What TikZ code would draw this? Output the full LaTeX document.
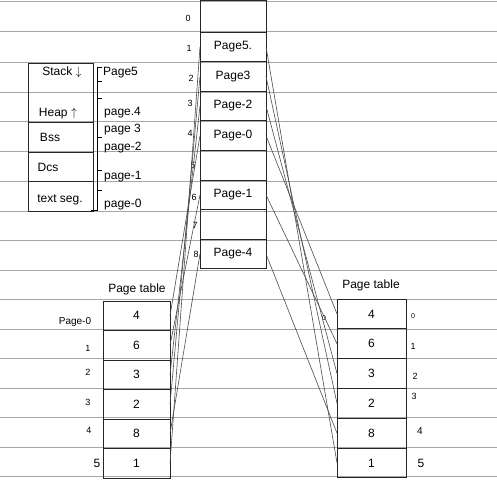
\documentclass[tikz,border=0pt]{standalone}
\usepackage{fontspec}
\setmainfont{Liberation Sans}
\begin{document}
\begin{tikzpicture}[x=1pt,y=-1pt,
  paper/.style={draw=gray!70, line width=1pt},
  cell/.style={draw=black!85, line width=0.9pt, inner sep=0pt, outer sep=0pt, anchor=north west},
  frm/.style={cell, minimum width=66pt, minimum height=29.6pt, font=\large},
  ltrow/.style={cell, minimum width=67pt, minimum height=29.5pt, font=\large},
  rtrow/.style={cell, minimum width=69pt, minimum height=29.8pt, font=\large},
  lbl/.style={inner sep=0pt, font=\normalsize},
  blbl/.style={inner sep=0pt, font=\large, anchor=west},
  sml/.style={inner sep=0pt, font=\small},
  conn/.style={draw=black!70, line width=0.6pt}]
\useasboundingbox (0,0) rectangle (497,489);
\fill[white] (0,0) rectangle (497,489);
% ruled paper lines
\foreach \y in {2,32,63,93,122,152,181,211,240,270,299,329,358,388,417,447,476}
  \draw[paper] (0,\y) -- (497,\y);

% central memory column
\node[frm, minimum height=32pt] (f0) at (200,0) {};
\node[frm] (f1) at (200,32) {Page5.};
\node[frm] (f2) at (200,61.6) {Page3};
\node[frm] (f3) at (200,91.2) {Page-2};
\node[frm] (f4) at (200,120.8) {Page-0};
\node[frm] (f5) at (200,150.4) {};
\node[frm] (f6) at (200,180) {Page-1};
\node[frm] (f7) at (200,209.6) {};
\node[frm] (f8) at (200,239.2) {Page-4};
% frame numbers
\node[sml] (n0) at (188,18) {0};
\node[sml] (n1) at (189,48) {1};
\node[sml] (n2) at (191,78) {2};
\node[sml] (n3) at (190,103) {3};
\node[sml] (n4) at (190,133) {4};
\node[sml] (n5) at (193,165) {5};
\node[sml] (n6) at (194,197) {6};
\node[sml] (n7) at (195,225) {7};
\node[sml] (n8) at (196,254) {8};

% segment table
\node[cell, minimum width=65pt, minimum height=59pt] (s1) at (28,63) {};
\node[cell, minimum width=65pt, minimum height=30pt] (s2) at (28,122) {};
\node[cell, minimum width=65pt, minimum height=29pt] (s3) at (28,152) {};
\node[cell, minimum width=65pt, minimum height=30pt] (s4) at (28,181) {};
\node[lbl, font=\large] (stk) at (62,72) {Stack $\downarrow$};
\node[lbl, font=\large] (hp) at (58,114) {Heap $\uparrow$};
\node[lbl, font=\large] (bss) at (50,137) {Bss};
\node[lbl, font=\large] (dcs) at (48,167) {Dcs};
\node[lbl, font=\large] (txt) at (60,200) {text seg.};
% bracket
\draw[line width=0.8pt] (102,67) -- (97,67) -- (97,210) -- (91,210);
\foreach \y in {81,98,137,170,190} \draw[line width=0.8pt] (97,\y) -- (102,\y);
\node[blbl] (b5) at (103,73) {Page5};
\node[blbl] (b4) at (104,113) {page.4};
\node[blbl] (b3) at (104,130) {page 3};
\node[blbl] (b2) at (104,148) {page-2};
\node[blbl] (b1) at (104,177) {page-1};
\node[blbl] (b0) at (104,205) {page-0};

% left page table
\node[lbl, font=\large] (ltt) at (137,289) {Page table};
\node[ltrow] (lt0) at (103,301) {4};
\node[ltrow] (lt1) at (103,330.5) {6};
\node[ltrow] (lt2) at (103,360) {3};
\node[ltrow] (lt3) at (103,389.5) {2};
\node[ltrow] (lt4) at (103,419) {8};
\node[ltrow] (lt5) at (103,448.5) {1};
\node[lbl] (li0) at (75,322) {Page-0};
\node[sml] (li1) at (88,348) {1};
\node[sml] (li2) at (88,372) {2};
\node[sml] (li3) at (88,402) {3};
\node[sml] (li4) at (89,430) {4};
\node[lbl, font=\large] (li5) at (97,463) {5};

% right page table
\node[lbl, font=\large] (rtt) at (371,285) {Page table};
\node[rtrow] (rt0) at (337,299) {4};
\node[rtrow] (rt1) at (337,328.8) {6};
\node[rtrow] (rt2) at (337,358.6) {3};
\node[rtrow] (rt3) at (337,388.4) {2};
\node[rtrow] (rt4) at (337,418.2) {8};
\node[rtrow] (rt5) at (337,448) {1};
\node[sml, font=\scriptsize] (ri0) at (413,316) {0};
\node[sml] (ri1) at (413,346) {1};
\node[sml] (ri2) at (415,376) {2};
\node[sml] (ri3) at (414,396) {3};
\node[sml, font=\normalsize] (ri4) at (420,431) {4};
\node[lbl, font=\large] (ri5) at (421,463) {5};
\node[sml, font=\scriptsize] (rz) at (324,318) {0};

% connectors left
\draw[conn] (lt0.east) -- (f4.west);
\draw[conn] (lt1.east) -- (f6.west);
\draw[conn] (lt2.east) -- (f3.west);
\draw[conn] (lt3.east) -- (f2.west);
\draw[conn] (lt4.east) -- (f8.west);
\draw[conn] (lt5.east) -- (f1.west);
% connectors right
\draw[conn] (f4.east) -- (rt0.west);
\draw[conn] (f6.east) -- (rt1.west);
\draw[conn] (f3.east) -- (rt2.west);
\draw[conn] (f2.east) -- (rt3.west);
\draw[conn] (f8.east) -- (rt4.west);
\draw[conn] (f1.east) -- (rt5.west);
\end{tikzpicture}
\end{document}
